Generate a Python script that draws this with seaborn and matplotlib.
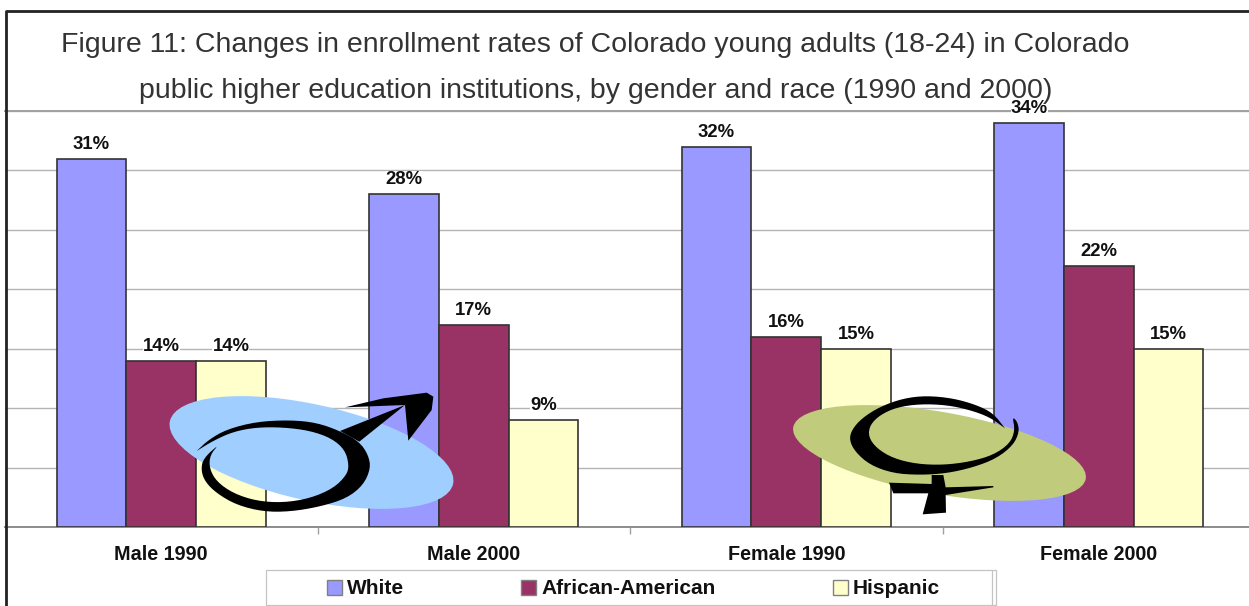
import numpy as np
import pandas as pd
import matplotlib
matplotlib.use('Agg')
import matplotlib.pyplot as plt
import seaborn as sns
from matplotlib.patches import Ellipse, Polygon, Rectangle

groups = ['Male 1990', 'Male 2000', 'Female 1990', 'Female 2000']
races = ['White', 'African-American', 'Hispanic']
white = [31, 28, 32, 34]
african_american = [14, 17, 16, 22]
hispanic = [14, 9, 15, 15]
colors = ['#9999FF', '#993366', '#FFFFCC']

title_lines = ['Figure 11: Changes in enrollment rates of Colorado young adults (18-24) in Colorado',
               'public higher education institutions, by gender and race (1990 and 2000)']

df = pd.DataFrame({
    'Group': groups * 3,
    'Race': [r for r in races for _ in groups],
    'Rate': white + african_american + hispanic,
})

W, H = 1249, 606


def smooth(points, rounds=2):
    # chaikin corner cutting so the traced rings do not look faceted
    pts = np.array(points, dtype=float)
    for _ in range(rounds):
        q = 0.75 * pts[:-1] + 0.25 * pts[1:]
        r = 0.25 * pts[:-1] + 0.75 * pts[1:]
        mid = np.empty((len(q) * 2, 2))
        mid[0::2] = q
        mid[1::2] = r
        pts = np.vstack([pts[:1], mid, pts[-1:]])
    return pts


def from_zoom(points, x0, y0):
    return [(x0 + px / 3, y0 + py / 3) for px, py in points]


sns.set_theme(style='white')
plt.rcParams['font.family'] = ['Liberation Sans', 'DejaVu Sans']

fig = plt.figure(figsize=(W / 100, H / 100), dpi=100)
ax = fig.add_axes([5 / W, 1 - 527 / H, 1244 / W, 416 / H])

sns.barplot(data=df, x='Group', y='Rate', hue='Race', order=groups, hue_order=races,
            palette=colors, saturation=1, width=0.669, gap=0, edgecolor='#333333',
            linewidth=1.2, errorbar=None, zorder=3, ax=ax)

ax.set_xlim(-0.5, -0.5 + 1244 / 312.5)
ax.set_ylim(0, 35)
ax.set_yticks(np.arange(0, 36, 5))
ax.set_yticklabels([])
ax.yaxis.grid(True, color='#b4b4b4', linewidth=1.0)
ax.set_axisbelow(True)
ax.set_xlabel('')
ax.set_ylabel('')
for side in ['left', 'right']:
    ax.spines[side].set_visible(False)
ax.spines['top'].set_color('#a0a0a0')
ax.spines['top'].set_linewidth(1.4)
ax.spines['bottom'].set_color('#8c8c8c')
ax.spines['bottom'].set_linewidth(1.4)
ax.set_xticks(range(4))
ax.set_xticklabels(groups, fontsize=14.2, fontweight='bold', color='#111111')
ax.set_xticks([0.5, 1.5, 2.5], minor=True)
ax.tick_params(axis='x', which='major', length=0, pad=13)
ax.tick_params(axis='x', which='minor', length=5, width=1, color='#a0a0a0', bottom=True)
ax.tick_params(axis='y', length=0)

for container in ax.containers:
    for t in ax.bar_label(container, fmt='%d%%', padding=4.2, fontsize=13.3,
                          fontweight='bold', color='#111111'):
        # labels knock out the lines behind them, 34% sits on the top line
        t.set_bbox(dict(facecolor='white', edgecolor='none', pad=0))
        t.set_zorder(4)

handles, labels = ax.get_legend_handles_labels()
leg = ax.legend(handles, labels, ncol=3, loc='center left', bbox_transform=fig.transFigure,
                bbox_to_anchor=(327 / W, 1 - 589 / H), borderaxespad=0, frameon=False,
                fontsize=15, handlelength=0.7, handleheight=0.7, handletextpad=0.24,
                columnspacing=5.65, borderpad=0)
for t in leg.get_texts():
    t.set_fontweight('bold')
    t.set_color('#111111')
for h in leg.legend_handles:
    h.set_edgecolor('#808080')
    h.set_linewidth(1)

# overlay in image pixels for the frame, the title and the gender symbols
over = fig.add_axes([0, 0, 1, 1], zorder=5)
over.set_xlim(0, W)
over.set_ylim(H, 0)
over.axis('off')
over.patch.set_alpha(0)

over.plot([6.5, 6.5, W], [H, 11, 11], color='#222222', linewidth=2)
over.text(595.5, 44.5, title_lines[0], ha='center', va='center', fontsize=20.5, color='#333333')
over.text(595.5, 91.5, title_lines[1], ha='center', va='center', fontsize=20.5, color='#333333')

over.add_patch(Rectangle((266, 570), 730, 35, facecolor='none', edgecolor='#c4c4c4', linewidth=0.9))
over.plot([992, 992], [570, 605], color='#c4c4c4', linewidth=0.9)

over.add_patch(Ellipse((311.5, 452.5), 290, 96, angle=12.5, facecolor='#A0CFFF', edgecolor='none'))
over.add_patch(Ellipse((939.5, 453), 297, 82, angle=10, facecolor='#C0CC7C', edgecolor='none'))

male_ring = [(140, 243), (175, 210), (230, 178), (320, 155), (420, 150), (500, 158), (570, 183),
             (628, 215), (655, 255), (662, 295), (640, 345), (590, 385), (510, 410), (420, 425),
             (340, 425), (260, 405), (200, 370), (165, 335), (153, 300), (160, 265), (208, 222),
             (180, 255), (178, 295), (200, 335), (250, 370), (320, 393), (400, 398), (480, 385),
             (550, 355), (590, 315), (597, 285), (585, 240), (545, 205), (480, 182), (400, 172),
             (320, 172), (250, 185), (190, 212), (140, 243)]
male_arrow = [(570, 183), (765, 105), (585, 112), (700, 85), (830, 68), (850, 80), (845, 120),
              (775, 212), (765, 105), (628, 215)]
over.add_patch(Polygon(smooth(from_zoom(male_ring, 150, 370)), closed=True, facecolor='black', edgecolor='none'))
over.add_patch(Polygon(from_zoom(male_arrow, 150, 370), closed=True, facecolor='black', edgecolor='none'))

female_ring = [(675, 145), (640, 100), (590, 75), (520, 55), (440, 47), (370, 55), (300, 80),
               (245, 115), (215, 150), (208, 180), (225, 215), (270, 255), (340, 280), (420, 285),
               (500, 280), (580, 262), (650, 235), (700, 195), (718, 155), (712, 125), (697, 110),
               (705, 150), (690, 190), (640, 225), (570, 245), (490, 255), (410, 252), (340, 235),
               (290, 205), (265, 170), (270, 135), (300, 105), (350, 82), (420, 72), (500, 75),
               (570, 90), (630, 112), (675, 145)]
female_cross = [(455, 285), (490, 285), (497, 322), (640, 318), (640, 322), (497, 345), (498, 398),
                (428, 403), (445, 340), (340, 340), (327, 308), (455, 312)]
over.add_patch(Polygon(smooth(from_zoom(female_ring, 780, 380)), closed=True, facecolor='black', edgecolor='none'))
over.add_patch(Polygon(from_zoom(female_cross, 780, 380), closed=True, facecolor='black', edgecolor='none'))

fig.savefig('out.png', dpi=100)
